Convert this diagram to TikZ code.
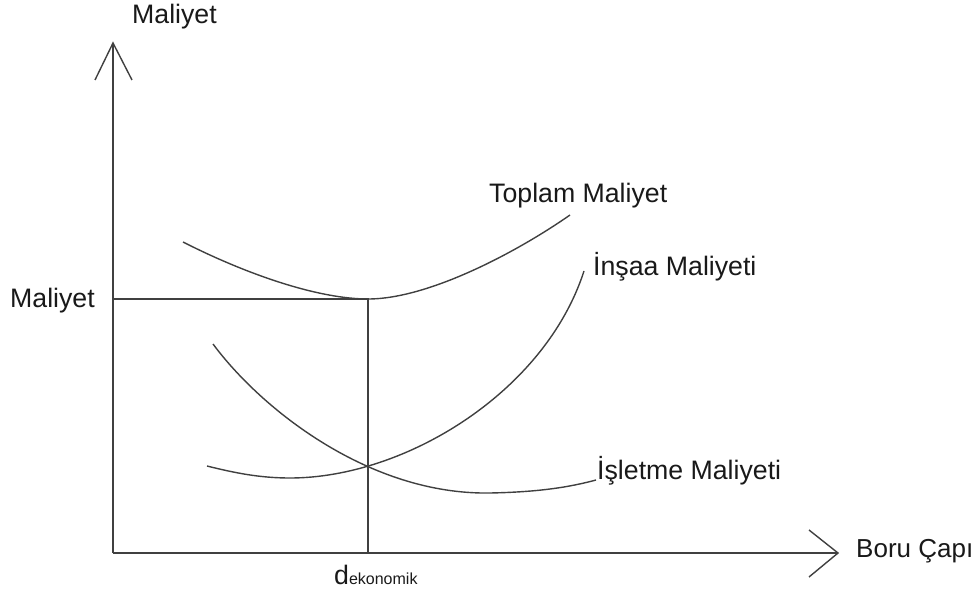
\documentclass[tikz,border=0pt]{standalone}
\usepackage{fontspec}
\setmainfont{Liberation Sans}
\begin{document}
\begin{tikzpicture}[x=1pt,y=-1pt,
  curve/.style={draw=black!75,line width=1.4pt},
  axis/.style={draw=black!75,line width=1.4pt,line join=miter},
  guide/.style={draw=black!75,line width=1.2pt},
  lbl/.style={anchor=base west,inner sep=0pt,text=black!90,font=\fontsize{26.7}{31}\selectfont}]
\useasboundingbox (0,0) rectangle (976,593);

% axes
\coordinate (O) at (113,553);
\coordinate (ytip) at (113,43);
\coordinate (xtip) at (838,553);
\draw[axis] (O) -- (ytip);
\draw[axis] (O) -- (xtip);
\draw[axis] (95,80) -- (ytip) -- (132,80);
\draw[axis] (809,530) -- (xtip) -- (809,577);

% optimum guides
\coordinate (ymark) at (113,299);
\coordinate (opt) at (368,299);
\coordinate (xmark) at (368,553);
\draw[guide] (ymark) -- (opt) -- (xmark);

% total cost
\draw[curve] (183,242) .. controls (250,276) and (320,299) .. (opt)
  .. controls (430,299) and (520,250) .. (570,215);

% construction cost
\draw[curve] (207,466) .. controls (235,473) and (260,478) .. (290,478)
  .. controls (405,478) and (545,392) .. (584,271);

% operating cost
\draw[curve] (213,344) .. controls (262,410) and (370,495) .. (490,493)
  .. controls (540,492) and (570,487) .. (596,480);

% labels
\node[lbl] (tY) at (132,24) {Maliyet};
\node[lbl] (tM) at (10,307) {Maliyet};
\node[lbl,font=\fontsize{26}{31}\selectfont] (tX) at (856,557) {Boru Çapı};
\node[lbl] (tT) at (489,203) {Toplam Maliyet};
\node[lbl] (tI) at (593,276) {İnşaa Maliyeti};
\node[lbl] (tO) at (597,479) {İşletme Maliyeti};
\node[lbl] (tD) at (334,584) {d\fontsize{16}{19}\selectfont ekonomik};
\end{tikzpicture}
\end{document}
